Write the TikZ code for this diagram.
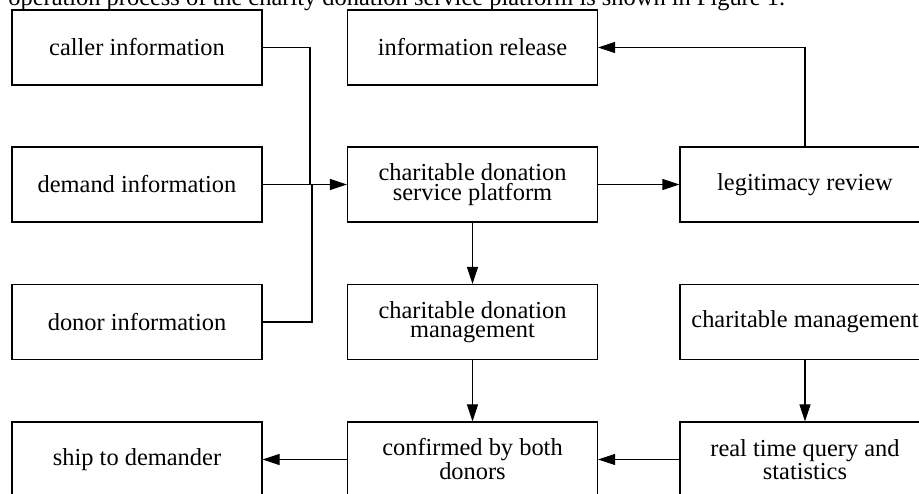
\documentclass[tikz,border=0pt]{standalone}
\usepackage{fontspec}
\setmainfont{Liberation Serif}
\usetikzlibrary{arrows.meta}

\begin{document}
\begin{tikzpicture}[auto,
    stage/.style ={rectangle, draw, line width=0.6pt, minimum width=5cm, minimum height=1.5cm,
                   inner sep=0pt, align=center, font=\fontsize{13.9}{11}\selectfont},
    link/.style ={line width=0.6pt},
    flow/.style ={link, -{Triangle[length=3.4mm,width=2.2mm]}}]
   \useasboundingbox (0,0) rectangle (18.38,-9.88);
   \clip (0,0) rectangle (18.38,-9.88);

   \node[anchor=base west, inner sep=0pt, font=\fontsize{13.9}{11}\selectfont] (caption) at (0.16,-0.11)
        {operation process of the charity donation service platform is shown in Figure 1.};

   \node[stage] (caller)   at (2.74,-0.95)  {caller information};
   \node[stage] (demand)   at (2.74,-3.69)  {demand information};
   \node[stage] (donor)    at (2.74,-6.44)  {donor information};
   \node[stage] (ship)     at (2.74,-9.19)  {ship to demander};

   \node[stage] (release)  at (9.45,-0.95)  {information release};
   \node[stage] (platform) at (9.45,-3.69)  {charitable donation\\service platform};
   \node[stage] (donmgmt)  at (9.45,-6.44)  {charitable donation\\management};
   \node[stage] (confirm)  at (9.45,-9.19)  {confirmed by both\\donors};

   \node[stage] (review)   at (16.1,-3.69)  {legitimacy review};
   \node[stage] (chmgmt)   at (16.1,-6.44)  {charitable management};
   \node[stage] (query)    at (16.1,-9.19)  {real time query and\\statistics};

   \coordinate (j1) at (6.2,-3.69);
   \coordinate (j2) at (6.24,-3.69);



   \draw[link] (caller.east) -| (j1);
   \draw[link] (donor.east) -| (j2);
   \draw[flow] (demand) to (platform);

   \draw[flow] (platform) to (review);
   \draw[flow] (review.north) |- (release.east);

   \draw[flow] (platform) to (donmgmt);
   \draw[flow] (donmgmt) to (confirm);
   \draw[flow] (chmgmt) to (query);

   \draw[flow] (query) to (confirm);
   \draw[flow] (confirm) to (ship);
 \end{tikzpicture}
\end{document}
